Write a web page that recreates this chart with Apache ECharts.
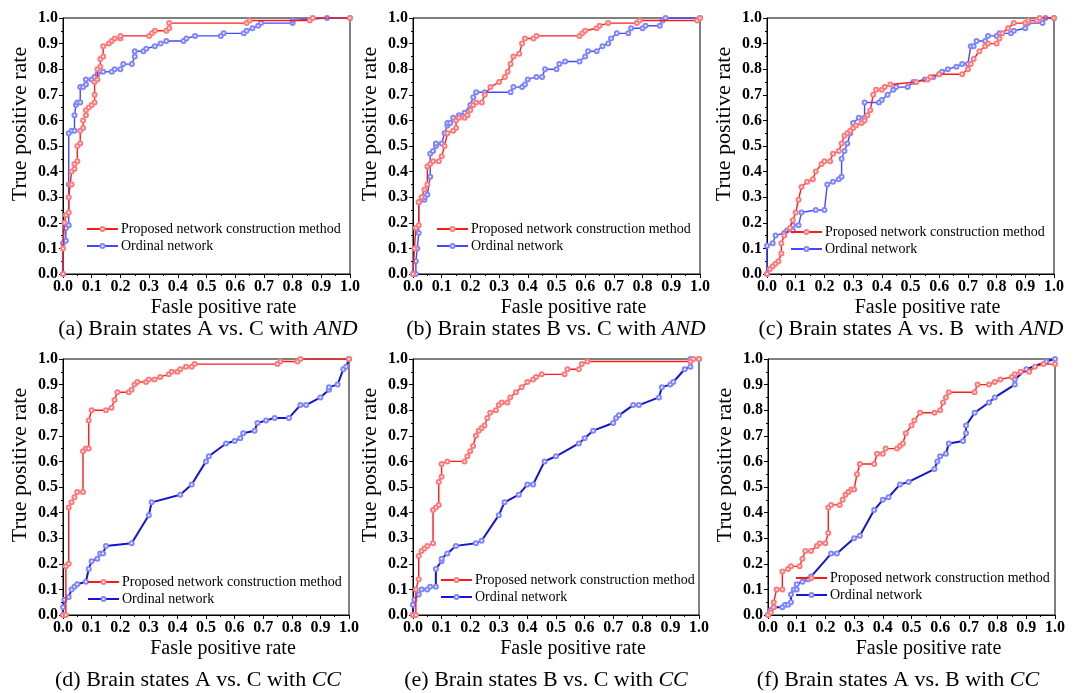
<!DOCTYPE html>
<html>
<head>
<meta charset="utf-8">
<style>
html,body{margin:0;padding:0;background:#fff;}
#chart{width:1073px;height:693px;}
</style>
<script src="https://cdn.jsdelivr.net/npm/echarts@6.0.0/dist/echarts.min.js"></script>
</head>
<body>
<div id="chart"></div>
<script>
// ---------- data ----------
const tickLabels = ['0.0','0.1','0.2','0.3','0.4','0.5','0.6','0.7','0.8','0.9','1.0'];
const seriesNames = ['Proposed network construction method', 'Ordinal network'];
const captions = [
  '(a) Brain states A vs. C with {i|AND}',
  '(b) Brain states B vs. C with {i|AND}',
  '(c) Brain states A vs. B  with {i|AND}',
  '(d) Brain states A vs. C with {i|CC}',
  '(e) Brain states B vs. C with {i|CC}',
  '(f) Brain states A vs. B with {i|CC}'
];
const xTitle = 'Fasle positive rate';
const yTitle = 'True positive rate';

// (a) A vs C, AND
const aProp = [[0,0],[0,0.1],[0.005,0.2],[0.01,0.23],[0.02,0.24],[0.02,0.3],[0.025,0.35],[0.03,0.35],[0.03,0.4],[0.04,0.41],[0.04,0.43],[0.05,0.44],[0.05,0.5],[0.06,0.51],[0.06,0.56],[0.07,0.57],[0.07,0.6],[0.08,0.62],[0.08,0.64],[0.09,0.65],[0.1,0.66],[0.11,0.67],[0.11,0.7],[0.11,0.75],[0.12,0.76],[0.12,0.8],[0.13,0.81],[0.13,0.84],[0.14,0.85],[0.14,0.89],[0.16,0.9],[0.17,0.91],[0.18,0.92],[0.2,0.92],[0.2,0.93],[0.3,0.93],[0.31,0.94],[0.32,0.95],[0.36,0.95],[0.37,0.96],[0.37,0.98],[0.64,0.98],[0.65,0.99],[0.86,0.99],[0.87,1],[1,1]];
const aOrd = [[0,0],[0,0.12],[0.01,0.13],[0.01,0.18],[0.02,0.19],[0.02,0.35],[0.02,0.55],[0.03,0.56],[0.04,0.56],[0.04,0.62],[0.045,0.66],[0.05,0.67],[0.06,0.67],[0.06,0.73],[0.07,0.73],[0.08,0.74],[0.08,0.76],[0.1,0.76],[0.11,0.77],[0.12,0.78],[0.14,0.79],[0.17,0.79],[0.18,0.8],[0.2,0.8],[0.21,0.82],[0.24,0.82],[0.25,0.85],[0.25,0.87],[0.28,0.87],[0.29,0.88],[0.32,0.89],[0.34,0.9],[0.36,0.91],[0.42,0.91],[0.43,0.92],[0.46,0.93],[0.55,0.93],[0.56,0.94],[0.63,0.94],[0.64,0.95],[0.66,0.96],[0.68,0.97],[0.69,0.98],[0.8,0.98],[0.8,0.99],[0.92,1],[1,1]];
// (b) B vs C, AND
const bProp = [[0,0],[0.005,0.1],[0.01,0.18],[0.02,0.19],[0.02,0.28],[0.03,0.3],[0.04,0.33],[0.05,0.35],[0.05,0.42],[0.06,0.43],[0.07,0.44],[0.09,0.44],[0.1,0.46],[0.11,0.5],[0.12,0.55],[0.14,0.56],[0.15,0.57],[0.15,0.6],[0.16,0.61],[0.18,0.61],[0.19,0.62],[0.2,0.64],[0.21,0.66],[0.22,0.67],[0.24,0.67],[0.25,0.7],[0.27,0.73],[0.3,0.75],[0.32,0.77],[0.33,0.79],[0.34,0.82],[0.35,0.85],[0.37,0.86],[0.38,0.9],[0.39,0.92],[0.42,0.92],[0.43,0.93],[0.58,0.93],[0.59,0.94],[0.6,0.95],[0.64,0.96],[0.65,0.97],[0.68,0.98],[0.78,0.98],[0.79,0.99],[0.99,0.99],[1,1]];
const bOrd = [[0,0],[0.01,0],[0.01,0.05],[0.015,0.1],[0.02,0.16],[0.02,0.28],[0.03,0.29],[0.04,0.29],[0.04,0.3],[0.05,0.31],[0.06,0.38],[0.06,0.47],[0.07,0.48],[0.08,0.5],[0.08,0.51],[0.1,0.51],[0.11,0.55],[0.12,0.58],[0.12,0.59],[0.13,0.59],[0.14,0.61],[0.16,0.62],[0.18,0.63],[0.2,0.66],[0.21,0.69],[0.22,0.71],[0.25,0.71],[0.34,0.71],[0.35,0.73],[0.38,0.73],[0.39,0.74],[0.4,0.76],[0.43,0.77],[0.45,0.77],[0.46,0.8],[0.5,0.8],[0.51,0.82],[0.53,0.83],[0.58,0.83],[0.6,0.85],[0.61,0.87],[0.64,0.87],[0.66,0.89],[0.68,0.9],[0.69,0.92],[0.71,0.94],[0.75,0.94],[0.76,0.96],[0.8,0.96],[0.81,0.97],[0.86,0.97],[0.87,0.99],[0.88,1],[1,1]];
// (c) A vs B, AND
const cProp = [[0,0],[0.01,0.02],[0.02,0.03],[0.03,0.04],[0.04,0.05],[0.05,0.08],[0.05,0.12],[0.06,0.15],[0.08,0.18],[0.09,0.21],[0.1,0.24],[0.11,0.29],[0.12,0.34],[0.14,0.36],[0.16,0.37],[0.17,0.4],[0.19,0.43],[0.2,0.44],[0.22,0.44],[0.23,0.47],[0.25,0.48],[0.26,0.51],[0.27,0.54],[0.28,0.55],[0.29,0.56],[0.3,0.57],[0.31,0.58],[0.33,0.59],[0.34,0.6],[0.35,0.62],[0.36,0.64],[0.37,0.7],[0.38,0.72],[0.4,0.72],[0.41,0.73],[0.43,0.74],[0.52,0.75],[0.56,0.76],[0.57,0.77],[0.6,0.78],[0.68,0.78],[0.7,0.8],[0.71,0.82],[0.72,0.84],[0.74,0.87],[0.76,0.89],[0.77,0.9],[0.8,0.9],[0.81,0.92],[0.82,0.94],[0.84,0.96],[0.86,0.98],[0.9,0.98],[0.91,0.99],[0.94,0.99],[0.95,1],[1,1]];
const cOrd = [[0,0],[0,0.11],[0.02,0.12],[0.03,0.15],[0.06,0.16],[0.07,0.17],[0.09,0.17],[0.09,0.19],[0.11,0.19],[0.12,0.24],[0.17,0.25],[0.2,0.25],[0.21,0.35],[0.23,0.36],[0.25,0.37],[0.26,0.38],[0.26,0.45],[0.27,0.48],[0.28,0.51],[0.29,0.55],[0.3,0.59],[0.32,0.61],[0.34,0.61],[0.34,0.67],[0.39,0.67],[0.4,0.68],[0.42,0.7],[0.44,0.72],[0.45,0.73],[0.49,0.73],[0.51,0.75],[0.55,0.76],[0.58,0.77],[0.6,0.78],[0.61,0.79],[0.63,0.8],[0.66,0.81],[0.68,0.82],[0.7,0.82],[0.71,0.89],[0.72,0.89],[0.73,0.91],[0.76,0.91],[0.77,0.93],[0.8,0.93],[0.81,0.94],[0.85,0.94],[0.86,0.95],[0.9,0.96],[0.91,0.98],[0.96,0.98],[0.97,1],[1,1]];
// (d) A vs C, CC
const dProp = [[0,0],[0.01,0],[0.01,0.19],[0.02,0.2],[0.02,0.42],[0.03,0.44],[0.04,0.46],[0.05,0.48],[0.07,0.48],[0.07,0.64],[0.08,0.65],[0.09,0.65],[0.09,0.76],[0.1,0.8],[0.15,0.8],[0.17,0.81],[0.18,0.84],[0.19,0.87],[0.23,0.87],[0.24,0.88],[0.25,0.9],[0.26,0.91],[0.29,0.91],[0.3,0.92],[0.32,0.92],[0.34,0.93],[0.37,0.94],[0.38,0.95],[0.4,0.95],[0.41,0.96],[0.43,0.97],[0.45,0.97],[0.46,0.98],[0.75,0.98],[0.76,0.99],[0.82,0.99],[0.83,1],[1,1]];
const dOrd = [[0,0],[0,0.03],[0.005,0.06],[0.02,0.07],[0.03,0.1],[0.04,0.11],[0.05,0.12],[0.08,0.13],[0.09,0.18],[0.1,0.21],[0.12,0.22],[0.13,0.24],[0.14,0.24],[0.15,0.27],[0.24,0.28],[0.3,0.39],[0.31,0.44],[0.41,0.47],[0.45,0.51],[0.5,0.6],[0.51,0.62],[0.57,0.67],[0.6,0.68],[0.62,0.69],[0.63,0.71],[0.67,0.72],[0.68,0.75],[0.71,0.76],[0.74,0.77],[0.79,0.77],[0.83,0.82],[0.85,0.82],[0.9,0.85],[0.93,0.88],[0.93,0.89],[0.96,0.9],[0.98,0.96],[0.99,0.97],[1,1]];
// (e) B vs C, CC
const eProp = [[0,0],[0.01,0],[0.01,0.1],[0.02,0.14],[0.02,0.23],[0.03,0.25],[0.04,0.26],[0.05,0.27],[0.07,0.28],[0.07,0.41],[0.08,0.42],[0.09,0.43],[0.09,0.52],[0.1,0.54],[0.1,0.59],[0.12,0.6],[0.18,0.6],[0.19,0.62],[0.2,0.64],[0.21,0.66],[0.22,0.7],[0.23,0.72],[0.24,0.73],[0.25,0.74],[0.26,0.77],[0.27,0.79],[0.29,0.8],[0.3,0.82],[0.31,0.83],[0.33,0.83],[0.34,0.85],[0.36,0.87],[0.38,0.89],[0.4,0.91],[0.42,0.92],[0.43,0.93],[0.45,0.94],[0.53,0.94],[0.54,0.96],[0.58,0.96],[0.59,0.98],[0.61,0.99],[0.97,0.99],[0.98,1],[1,1]];
const eOrd = [[0,0],[0,0.04],[0.005,0.06],[0.02,0.08],[0.03,0.1],[0.05,0.1],[0.06,0.11],[0.08,0.11],[0.08,0.18],[0.1,0.21],[0.1,0.22],[0.12,0.24],[0.15,0.27],[0.22,0.28],[0.24,0.29],[0.3,0.39],[0.32,0.44],[0.37,0.47],[0.4,0.51],[0.42,0.51],[0.46,0.6],[0.5,0.62],[0.58,0.67],[0.6,0.69],[0.63,0.72],[0.7,0.75],[0.71,0.77],[0.72,0.78],[0.77,0.82],[0.79,0.82],[0.86,0.85],[0.87,0.89],[0.9,0.9],[0.91,0.91],[0.95,0.96],[0.97,0.97],[0.97,1],[1,1]];
// (f) A vs B, CC
const fProp = [[0,0],[0.01,0.01],[0.02,0.03],[0.02,0.05],[0.03,0.1],[0.05,0.1],[0.05,0.17],[0.07,0.18],[0.08,0.19],[0.11,0.19],[0.12,0.22],[0.13,0.25],[0.15,0.25],[0.17,0.27],[0.18,0.28],[0.2,0.28],[0.21,0.32],[0.21,0.42],[0.22,0.43],[0.25,0.43],[0.26,0.45],[0.27,0.47],[0.28,0.48],[0.29,0.49],[0.3,0.49],[0.31,0.55],[0.32,0.59],[0.37,0.59],[0.38,0.63],[0.4,0.63],[0.41,0.65],[0.45,0.65],[0.46,0.66],[0.47,0.67],[0.48,0.71],[0.5,0.74],[0.51,0.76],[0.53,0.79],[0.58,0.79],[0.6,0.8],[0.61,0.83],[0.62,0.85],[0.63,0.87],[0.72,0.87],[0.73,0.9],[0.77,0.9],[0.79,0.91],[0.81,0.92],[0.85,0.93],[0.86,0.94],[0.88,0.95],[0.91,0.95],[0.93,0.97],[0.96,0.98],[1,0.98]];
const fOrd = [[0,0],[0.01,0.02],[0.02,0.03],[0.05,0.03],[0.06,0.04],[0.07,0.04],[0.08,0.05],[0.08,0.08],[0.09,0.1],[0.1,0.1],[0.1,0.12],[0.12,0.13],[0.14,0.14],[0.15,0.15],[0.22,0.24],[0.24,0.24],[0.3,0.3],[0.32,0.31],[0.37,0.41],[0.4,0.45],[0.42,0.46],[0.46,0.51],[0.49,0.52],[0.58,0.57],[0.59,0.6],[0.6,0.62],[0.62,0.63],[0.63,0.67],[0.68,0.68],[0.69,0.71],[0.69,0.74],[0.72,0.79],[0.77,0.83],[0.79,0.85],[0.86,0.9],[0.86,0.92],[0.9,0.96],[0.97,0.99],[1,1]];

const propData = [aProp, bProp, cProp, dProp, eProp, fProp];
const ordData  = [aOrd, bOrd, cOrd, dOrd, eOrd, fOrd];

// ---------- layout & style ----------
const FONT = 'Liberation Serif';
const grids = [
  {left:63, top:18, width:287, height:256},
  {left:413, top:18, width:287, height:256},
  {left:767, top:18, width:287, height:256},
  {left:63, top:359, width:286, height:256},
  {left:413, top:359, width:286, height:256},
  {left:768, top:359, width:287, height:256}
];
const legendPos = [
  {left:86, top:221}, {left:436, top:221}, {left:790, top:224},
  {left:87, top:574}, {left:440, top:572}, {left:795, top:570}
];
const capPos = [
  {x:208, y:317}, {x:556, y:317}, {x:911, y:317},
  {x:198, y:668}, {x:546, y:668}, {x:898, y:668}
];
const RED = '#ff1a1a', RED_MK = '#ff7a7a';
const BLUE_TOP = '#4646ff', BLUE_BOT = '#1414d2', BLUE_MK = '#7f86ff';

const option = {
  animation: false,
  backgroundColor: '#fff',
  grid: [], xAxis: [], yAxis: [], series: [], legend: [], title: []
};

grids.forEach((g, i) => {
  option.grid.push(Object.assign({show:true, borderColor:'#000', borderWidth:1, backgroundColor:'transparent'}, g));
  const axisCommon = {
    gridIndex: i, type: 'value', min: 0, max: 1, interval: 0.1,
    axisLine: {show:true, onZero:false, lineStyle:{color:'#000', width:1}},
    axisTick: {show:true, inside:false, length:4, lineStyle:{color:'#000', width:1}},
    minorTick: {show:true, splitNumber:2, length:2, lineStyle:{color:'#000', width:1}},
    splitLine: {show:false},
    axisLabel: {formatter: v => tickLabels[Math.round(v*10)], fontFamily:FONT, fontWeight:'bold', fontSize:16, color:'#000'}
  };
  option.xAxis.push(Object.assign({}, axisCommon, {
    axisLabel: Object.assign({}, axisCommon.axisLabel, {margin:5}),
    name: xTitle, nameLocation:'middle', nameGap:24,
    nameTextStyle: {fontFamily:FONT, fontSize:20, color:'#000', padding:[0,0,0,34]}
  }));
  option.yAxis.push(Object.assign({}, axisCommon, {
    axisLabel: Object.assign({}, axisCommon.axisLabel, {margin:5}),
    name: yTitle, nameLocation:'middle', nameGap:32,
    nameTextStyle: {fontFamily:FONT, fontSize:22, color:'#000', padding:[0,0,0,44]}
  }));
  const tag = '|' + i;
  const blue = i < 3 ? BLUE_TOP : BLUE_BOT;
  const blueW = i < 3 ? 1.4 : 2;
  option.series.push({
    name: seriesNames[0] + tag, type:'line', xAxisIndex:i, yAxisIndex:i,
    data: propData[i], symbol:'emptyCircle', symbolSize:4, showAllSymbol:true,
    lineStyle:{color:RED, width:1.4}, itemStyle:{color:RED_MK, borderWidth:1}, z:3
  });
  option.series.push({
    name: seriesNames[1] + tag, type:'line', xAxisIndex:i, yAxisIndex:i,
    data: ordData[i], symbol:'emptyCircle', symbolSize:4, showAllSymbol:true,
    lineStyle:{color:blue, width:blueW}, itemStyle:{color:BLUE_MK, borderWidth:1}, z:2
  });
  option.legend.push({
    left: legendPos[i].left, top: legendPos[i].top, orient:'vertical', padding:0,
    itemWidth:31, itemHeight:5, itemGap:1, selectedMode:false,
    data: [seriesNames[0] + tag, seriesNames[1] + tag],
    formatter: n => n.split('|')[0],
    textStyle: {fontFamily:FONT, fontSize:14, color:'#000', lineHeight:16, padding:[0,0,0,-2]}
  });
  option.title.push({
    text: captions[i], left: capPos[i].x, top: capPos[i].y, textAlign:'center', padding:0,
    textStyle: {fontFamily:FONT, fontSize:22, fontWeight:'normal', color:'#000', lineHeight:24,
      rich: {i: {fontFamily:FONT, fontStyle:'italic', fontSize:22, color:'#000', lineHeight:24}}}
  });
});

const chart = echarts.init(document.getElementById('chart'), null, {renderer:'canvas'});
chart.setOption(option);
</script>
</body>
</html>
